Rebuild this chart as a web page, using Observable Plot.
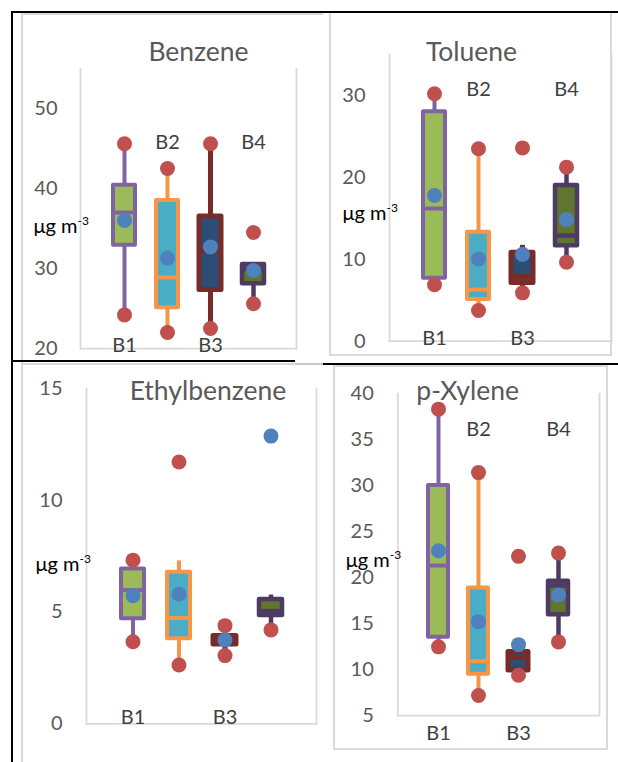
<!DOCTYPE html>
<html><head><meta charset="utf-8">
<script src="https://cdn.jsdelivr.net/npm/d3@7"></script>
<script src="https://cdn.jsdelivr.net/npm/@observablehq/plot@0.6"></script>
<style>
html,body{margin:0;padding:0;background:#fff;}
#wrap{position:relative;width:618px;height:762px;overflow:hidden;font-family:Lato,sans-serif;background:#fff;}
.ln{position:absolute;}
.cell{position:absolute;}
.cell svg{max-width:none;display:block;}
</style></head><body><div id="wrap"></div>
<script>
// categories
const sites = ["B1", "B2", "B3", "B4"];

// Benzene
const benzeneQ1 = [32.9, 25.1, 27.3, 28.1];
const benzeneMedian = [37.0, 28.9, 32.2, 29.95];
const benzeneQ3 = [40.4, 38.5, 36.5, 30.5];
const benzeneWhiskerLo = [24.2, 22.0, 22.5, 25.6];
const benzeneWhiskerHi = [45.6, 42.5, 45.6, 30.5];
const benzeneMin = [24.2, 22.0, 22.5, 25.6];
const benzeneMax = [45.6, 42.5, 45.6, 34.5];
const benzeneMean = [36.0, 31.3, 32.7, 29.75];
const benzeneTicks = [20, 30, 40, 50];

// Toluene
const tolueneQ1 = [7.7, 5.1, 7.1, 11.65];
const tolueneMedian = [16.2, 6.3, 7.9, 12.9];
const tolueneQ3 = [28.0, 13.3, 10.8, 19.0];
const tolueneWhiskerLo = [6.9, 3.8, 5.9, 9.65];
const tolueneWhiskerHi = [30.2, 23.5, 11.7, 21.25];
const tolueneMin = [6.9, 3.75, 5.9, 9.65];
const tolueneMax = [30.2, 23.5, 23.6, 21.25];
const tolueneMean = [17.8, 10.05, 10.6, 14.85];
const tolueneTicks = [0, 10, 20, 30];

// Ethylbenzene
const ethylQ1 = [4.7, 3.81, 3.55, 4.85];
const ethylMedian = [5.98, 4.73, 3.7, 5.04];
const ethylQ3 = [6.93, 6.78, 3.93, 5.56];
const ethylWhiskerLo = [3.67, 2.63, 3.05, 4.2];
const ethylWhiskerHi = [7.32, 7.29, 3.93, 5.76];
const ethylMin = [3.67, 2.63, 3.05, 4.2];
const ethylMax = [7.32, 11.71, 4.39, null];
const ethylMean = [5.73, 5.8, 3.75, 12.87];
const ethylTicks = [0, 5, 10, 15];

// p-Xylene
const xyleneQ1 = [13.5, 9.48, 9.9, 15.95];
const xyleneMedian = [21.3, 10.9, 11.35, 19.14];
const xyleneQ3 = [30.0, 18.86, 11.9, 19.6];
const xyleneWhiskerLo = [12.46, 7.18, 9.37, 13.0];
const xyleneWhiskerHi = [38.3, 31.4, 11.9, 22.65];
const xyleneMin = [12.46, 7.18, 9.37, 13.0];
const xyleneMax = [38.3, 31.4, 22.3, 22.65];
const xyleneMean = [22.9, 15.2, 12.7, 18.1];
const xyleneTicks = [5, 10, 15, 20, 25, 30, 35, 40];

// styles
const boxFill = ["#9BBB59", "#4BACC6", "#2C4D75", "#5F7530"];
const boxStroke = ["#8064A2", "#F79646", "#772C2A", "#4D3B62"];
const boxStrokeWidth = [4, 4, 5, 4.5];
const extremeColor = "#C0504D";
const meanColor = "#4F81BD";
const lineGray = "#D9D9D9";

const panels = [
  {title: "Benzene", domain: [20, 55], ticks: benzeneTicks,
   q1: benzeneQ1, median: benzeneMedian, q3: benzeneQ3, lo: benzeneWhiskerLo, hi: benzeneWhiskerHi,
   min: benzeneMin, max: benzeneMax, mean: benzeneMean,
   L: {left: 0, top: 0, w: 320, h: 362, ml: 80, mr: 24, mt: 68, mb: 14, tp: 23,
       titleDx: 10, titleDy: -16, unitY: 35.2, unitDx: -47, topLabelY: 45.7, bottomDy: -2.5, topSites: ["B2", "B4"]}},
  {title: "Toluene", domain: [0, 35], ticks: tolueneTicks,
   q1: tolueneQ1, median: tolueneMedian, q3: tolueneQ3, lo: tolueneWhiskerLo, hi: tolueneWhiskerHi,
   min: tolueneMin, max: tolueneMax, mean: tolueneMean,
   L: {left: 320, top: 0, w: 298, h: 362, ml: 69, mr: 7, mt: 54, mb: 21.3, tp: 24,
       titleDx: -29, titleDy: -2, unitY: 15.6, unitDx: -47, topLabelY: 30.7, bottomDy: -2.5, topSites: ["B2", "B4"]}},
  {title: "Ethylbenzene", domain: [0, 15], ticks: ethylTicks,
   q1: ethylQ1, median: ethylMedian, q3: ethylQ3, lo: ethylWhiskerLo, hi: ethylWhiskerHi,
   min: ethylMin, max: ethylMax, mean: ethylMean,
   L: {left: 0, top: 362, w: 320, h: 400, ml: 86, mr: 4, mt: 26, mb: 38.7, tp: 24,
       titleDx: 6.5, titleDy: 3, unitY: 7.12, unitDx: -51, topLabelY: null, bottomDy: -6, topSites: []}},
  {title: "p-Xylene", domain: [5, 40], ticks: xyleneTicks,
   q1: xyleneQ1, median: xyleneMedian, q3: xyleneQ3, lo: xyleneWhiskerLo, hi: xyleneWhiskerHi,
   min: xyleneMin, max: xyleneMax, mean: xyleneMean,
   L: {left: 320, top: 362, w: 298, h: 400, ml: 77.3, mr: 19, mt: 31, mb: 47, tp: 24,
       titleDx: -31, titleDy: -2, unitY: 21.8, unitDx: -52, topLabelY: 36.1, bottomDy: 18, topSites: ["B2", "B4"]}}
];

const wrap = document.getElementById("wrap");
function line(x, y, w, h, color) {
  const d = document.createElement("div");
  d.className = "ln";
  Object.assign(d.style, {left: x + "px", top: y + "px", width: w + "px", height: h + "px", background: color});
  wrap.appendChild(d);
}

// chart-area frames (light gray)
line(21, 13, 2, 749, lineGray);
line(21, 13, 302, 1.5, lineGray);
line(21, 363, 302, 2, lineGray);
line(329, 12, 2, 343, lineGray);
line(610, 12, 2, 343, lineGray);
line(329, 354, 283, 2, lineGray);
line(333, 365, 2, 385, lineGray);
line(606, 365, 2, 385, lineGray);
line(333, 365, 275, 2, lineGray);
line(333, 748, 275, 2, lineGray);

function makePanel(p) {
  const L = p.L;
  const rows = sites.map((site, i) => ({
    site, q1: p.q1[i], median: p.median[i], q3: p.q3[i], lo: p.lo[i], hi: p.hi[i],
    min: p.min[i], max: p.max[i], mean: p.mean[i],
    fill: boxFill[i], stroke: boxStroke[i], sw: boxStrokeWidth[i]
  }));
  const topRows = rows.filter(d => L.topSites.includes(d.site));
  const bottomRows = rows.filter(d => d.site === "B1" || d.site === "B3");
  const svg = Plot.plot({
    width: L.w, height: L.h,
    marginLeft: L.ml, marginRight: L.mr, marginTop: L.mt, marginBottom: L.mb,
    style: {fontFamily: "Lato, sans-serif", background: "transparent", overflow: "visible"},
    x: {type: "band", domain: sites, paddingInner: 0.5, paddingOuter: 0.75, axis: null},
    y: {domain: p.domain},
    color: {type: "identity"},
    marks: [
      Plot.frame({anchor: "left", stroke: lineGray, strokeWidth: 1.75}),
      Plot.frame({anchor: "right", stroke: lineGray, strokeWidth: 1.75}),
      Plot.frame({anchor: "bottom", stroke: lineGray, strokeWidth: 1.75}),
      Plot.axisY(p.ticks, {anchor: "left", tickSize: 0, tickPadding: L.tp, fontSize: 20, color: "#595959", label: null}),
      Plot.ruleX(rows.filter(d => d.hi > d.q3), {x: "site", y1: "q3", y2: "hi", stroke: "stroke", strokeWidth: "sw"}),
      Plot.ruleX(rows.filter(d => d.lo < d.q1), {x: "site", y1: "lo", y2: "q1", stroke: "stroke", strokeWidth: "sw"}),
      Plot.barY(rows, {x: "site", y1: "q1", y2: "q3", fill: "fill", stroke: "stroke", strokeWidth: "sw", strokeLinejoin: "round"}),
      Plot.tickY(rows, {x: "site", y: "median", stroke: "stroke", strokeWidth: "sw"}),
      Plot.dot(rows.filter(d => d.max != null), {x: "site", y: "max", r: 7.5, fill: extremeColor}),
      Plot.dot(rows.filter(d => d.min != null), {x: "site", y: "min", r: 7.5, fill: extremeColor}),
      Plot.dot(rows, {x: "site", y: "mean", r: 7.5, fill: meanColor}),
      Plot.text(topRows, {x: "site", y: () => L.topLabelY, text: "site", fontSize: 20, fill: "#404040", lineAnchor: "middle"}),
      Plot.text(bottomRows, {x: "site", frameAnchor: "bottom", dy: L.bottomDy, text: "site", fontSize: 20, fill: "#404040", lineAnchor: "middle"}),
      Plot.text([p.title], {frameAnchor: "top", dx: L.titleDx, dy: L.titleDy, text: d => d, fontSize: 26.5, fill: "#595959", lineAnchor: "middle"}),
      Plot.text([L.unitY], {y: d => d, frameAnchor: "left", dx: L.unitDx, textAnchor: "start", lineAnchor: "middle", text: () => "μg m-3", fontSize: 20, fill: "#000000"})
    ]
  });
  // superscript for the unit label
  d3.select(svg).selectAll("text").filter(function () { return this.textContent === "μg m-3"; })
    .each(function () {
      const t = d3.select(this);
      t.text("μg m");
      t.append("tspan").attr("dy", "-8").attr("font-size", 12).text("-3");
    });
  const cell = document.createElement("div");
  cell.className = "cell";
  Object.assign(cell.style, {left: L.left + "px", top: L.top + "px", width: L.w + "px", height: L.h + "px"});
  cell.appendChild(svg);
  wrap.appendChild(cell);
}
panels.forEach(makePanel);

// table borders (black)
line(11, 11, 2, 751, "#000");
line(11, 11, 607, 2, "#000");
line(11, 360, 284, 2, "#000");
line(295, 363, 28, 2, "#C8C8C8");
line(323, 363, 295, 2, "#000");
</script></body></html>
